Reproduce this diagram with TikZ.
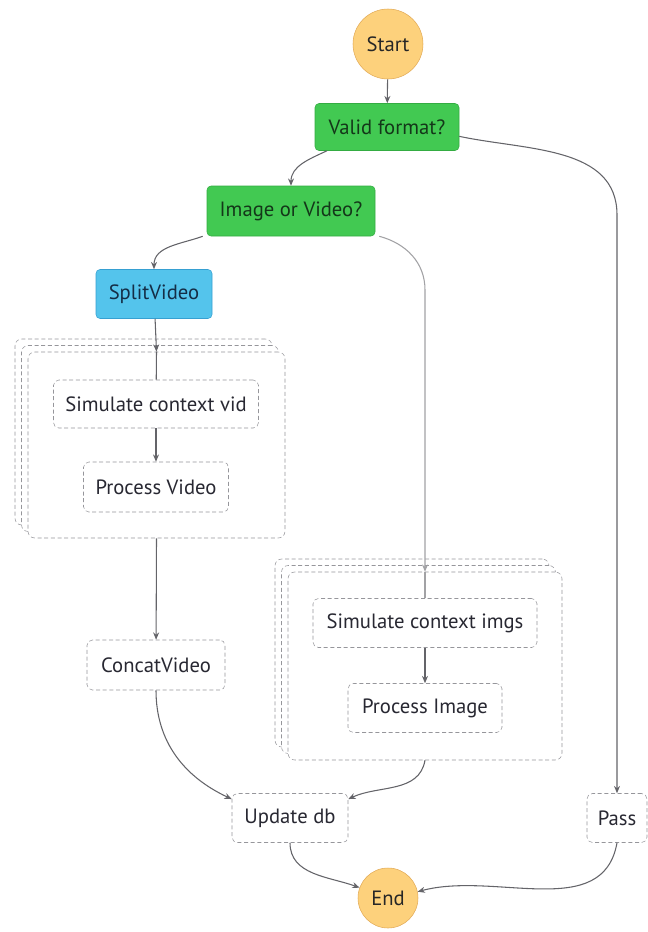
\documentclass[tikz,border=0pt]{standalone}
\usepackage{fontspec}
\setmainfont{PT Sans}
\usetikzlibrary{positioning,calc,arrows.meta}
\definecolor{termfill}{RGB}{253,209,124}
\definecolor{termline}{RGB}{226,170,86}
\definecolor{choicefill}{RGB}{66,201,82}
\definecolor{choiceline}{RGB}{52,172,66}
\definecolor{taskfill}{RGB}{84,196,236}
\definecolor{taskline}{RGB}{54,160,210}
\definecolor{edgegray}{RGB}{100,100,105}
\definecolor{boxgray}{RGB}{150,150,155}
\begin{document}
\begin{tikzpicture}[x=0.75pt,y=0.75pt,>={Stealth[length=5.5pt,width=4.5pt]},
    every node/.style={font=\fontsize{15.5}{18}\selectfont},
    sz/.style 2 args={minimum width=#1*0.75pt, minimum height=#2*0.75pt},
    terminal/.style={circle, fill=termfill, draw=termline, inner sep=0pt, text=black!85},
    choice/.style={rectangle, rounded corners=3pt, fill=choicefill, draw=choiceline, text={rgb,255:red,20;green,55;blue,25}},
    task/.style={rectangle, rounded corners=3pt, fill=taskfill, draw=taskline, text={rgb,255:red,20;green,45;blue,70}},
    state/.style={rectangle, rounded corners=4pt, fill=white, draw=boxgray, dash pattern=on 3pt off 2pt, text={rgb,255:red,40;green,40;blue,50}},
    mapbox/.style={rectangle, rounded corners=5pt, fill=white, draw=boxgray, dash pattern=on 3pt off 2pt},
    edge/.style={->, draw=edgegray, line width=0.8pt}]
  \useasboundingbox (0,0) rectangle (648,-932);

  \node[terminal, sz={70}{70}] (start) at (388,-44) {Start};
  \node[choice, sz={144}{47}] (valid) at (387,-127) {Valid format?};
  \node[choice, sz={168}{50}] (imgvid) at (291,-211) {Image or Video?};
  \node[task, sz={116}{49}] (split) at (154,-294) {SplitVideo};

  \node[mapbox, sz={257}{186}] (vidmapc) at (143.5,-432) {};
  \node[mapbox, sz={257}{186}] (vidmapb) at (150,-438.5) {};
  \node[mapbox, sz={257}{186}] (vidmap) at (156.5,-445) {};
  \node[state, sz={205}{48}] (simvid) at (156,-404) {Simulate context vid};
  \node[state, sz={145}{50}] (procvid) at (156,-487) {Process Video};
  \node[state, sz={138}{50}] (concat) at (156,-665) {ConcatVideo};

  \node[mapbox, sz={274}{188}] (imgmapc) at (412,-653) {};
  \node[mapbox, sz={274}{188}] (imgmapb) at (418.5,-659.5) {};
  \node[mapbox, sz={274}{188}] (imgmap) at (425,-666) {};
  \node[state, sz={224}{49}] (simimg) at (425,-623) {Simulate context imgs};
  \node[state, sz={154}{49}] (procimg) at (425,-708) {Process Image};

  \node[state, sz={116}{49}] (update) at (290,-818) {Update db};
  \node[state, sz={60}{49}] (pass) at (617,-818) {Pass};
  \node[terminal, sz={60}{60}] (end) at (388,-898) {End};

  \coordinate (passbend) at (pass.north |- 0,-215);
  \coordinate (imgbend) at (imgmap.north |- 0,-290);

  \draw[edge] (start) -- (valid);
  \draw[edge] ([xshift=-45pt]valid.south) to[out=-155,in=90] (imgvid.north);
  \draw[edge] ([yshift=-7pt]valid.east) to[out=-12,in=90] (passbend) -- (pass.north);
  \draw[edge] ([xshift=-3pt]imgvid.south west) to[out=-160,in=90] (split.north);
  \draw[edge, draw=edgegray!60] ([xshift=3pt]imgvid.south east) to[out=-15,in=90] (imgbend) -- (imgmap.north);
  \draw[edge] (split) -- (vidmap.north);
  \draw[edge, -] (vidmap.north) -- (simvid);
  \draw[edge] (simvid) -- (procvid);
  \draw[edge] (vidmap.south) -- (concat);
  \draw[edge, -, draw=edgegray!60] (imgmap.north) -- (simimg);
  \draw[edge] (simimg) -- (procimg);
  \draw[edge] (concat.south) to[out=-90,in=155] (update.162);
  \draw[edge] (imgmap.south) to[out=-100,in=25] (update.18);
  \draw[edge] (update.south) to[out=-90,in=160] (end.160);
  \draw[edge] (pass.south) to[out=-100,in=15] (end.12);
\end{tikzpicture}
\end{document}
